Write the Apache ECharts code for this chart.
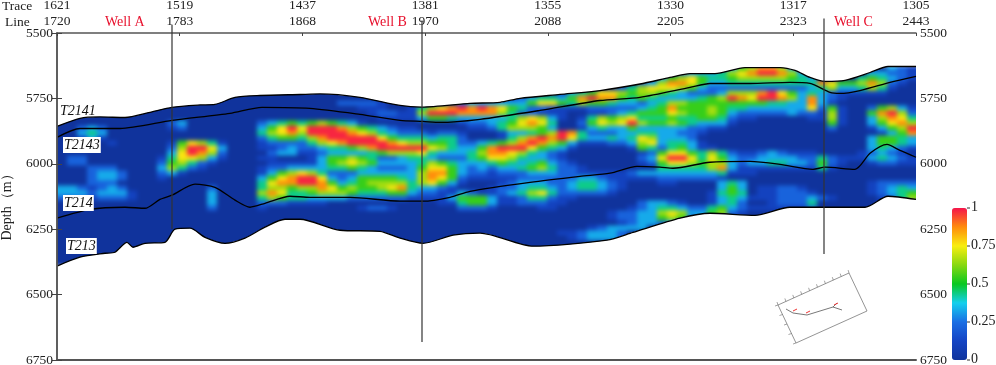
<!DOCTYPE html>
<html><head><meta charset="utf-8">
<style>
html,body{margin:0;padding:0;background:#fff}
#c{width:996px;height:365px}
canvas[data-zr-dom-id="zr_-1"]{filter:blur(2px);clip-path:inset(33px 80px 5px 57px)}
</style>
<script src="https://cdn.jsdelivr.net/npm/echarts@6/dist/echarts.min.js"></script>
</head><body><div id="c"></div>
<script>
const traceLabels=[1621,1519,1437,1381,1355,1330,1317,1305];
const lineLabels=[1720,1783,1868,1970,2088,2205,2323,2443];
const depthTicks=[5500,5750,6000,6250,6500,6750];
const colorbarTicks=[['1',1],['0.75',.75],['0.5',.5],['0.25',.25],['0',0]];

const topX=[0,23,43,68,93,115,143,158,178,203,243,263,303,343,365,413,443,463,503,543,583,613,633,658,688,723,738,753,768,788,813,831,859];
const topD=[5857,5826,5821,5823,5803,5784,5775,5773,5746,5739,5735,5733,5746,5777,5783,5769,5765,5750,5735,5720,5695,5670,5655,5655,5632,5632,5643,5670,5685,5681,5651,5628,5628];
const botX=[0,23,48,58,70,76,88,108,118,133,148,168,188,208,228,243,283,323,343,366,396,423,476,550,576,623,653,698,733,808,831,859];
const botD=[6391,6357,6342,6338,6300,6319,6304,6300,6250,6246,6281,6304,6284,6242,6212,6212,6254,6258,6284,6304,6273,6265,6315,6292,6262,6208,6189,6197,6166,6166,6124,6136];
const t2141X=[0,23,63,115,173,205,253,303,343,366,383,423,483,543,583,633,653,693,733,753,773,783,803,833,859];
const t2141D=[5899,5865,5865,5834,5807,5784,5788,5811,5834,5838,5842,5830,5796,5758,5746,5708,5693,5693,5689,5693,5727,5731,5720,5689,5666];
const t214X=[0,33,68,88,103,115,138,158,178,193,208,233,253,293,343,366,393,413,473,523,553,580,603,616,653,693,723,756,768,798,813,830,843,859];
const t214D=[6208,6174,6166,6170,6136,6120,6078,6090,6139,6166,6151,6124,6128,6128,6143,6143,6128,6105,6071,6048,6036,6010,6013,6017,5994,5991,6002,6021,6013,6021,5960,5926,5949,5975];
const wells=[['Well A',115,5468,6250],['Well B',365,5452,6681],['Well C',767,5445,6345]];

// amplitude grid: 0..9 digit per cell, 10 cells a group
const gridRows=[
"0000000000 0000000000 0000000000 0000000000 0000000000 0000000000 0000000356 8863000000 000321",
"0000000000 0000000000 0000000000 0000000000 0000000000 0000000000 0023334678 9986300000 033221",
"0000000000 0000000000 0000000000 0000000000 0000000000 0000000000 3567544566 6665430000 454321",
"0000000000 0000000000 0000000000 0000000000 0000000000 0000000023 6887533444 4444448755 686210",
"0000000000 0000000000 0000000000 0000000000 0000000000 0000002467 7765322222 2222234633 464100",
"0000000000 0000000000 0000000000 0000000000 0000000000 1345776566 5432223666 8975343211 111000",
"0000000000 0000000000 0000000000 0000000000 0000012344 3589885454 3333456987 9986383210 000000",
"0000000000 0000000000 0000000022 2210000000 2333333577 5465543323 4665555555 5443383100 000000",
"0000000000 0000000000 0000000000 1110014678 9898754221 1112222234 5855565443 3333372510 025631",
"0000000000 0000000000 0000000000 0122116999 8888642211 1001123455 5765565322 2223221610 058962",
"0000000000 0000000000 0000000000 0011113554 3333346763 1014656744 4544554211 0000011610 036874",
"0000000000 0230000000 2345456543 1000000000 1223457874 0025767965 5654333100 0000000510 035786",
"0023200000 0120000000 3579799986 5432110000 0112466653 0013433533 3332211000 0000000200 013569",
"0034300000 0000000000 4678699998 7643222122 1000133456 9842223344 3322100000 0000000000 001358",
"0013100000 0000000000 2455468999 9975444344 2000146898 9743343476 3332000000 0000000000 035543",
"0000010000 0157641000 1222246789 9998766554 2234568986 5311122367 3443100000 0000000000 035543",
"0000000000 0269973000 1123223445 6899999764 3358999754 3100000154 2453110000 0000000000 034321",
"0000000000 0379862000 0233112333 3456667433 3468876432 1000000012 5775464211 2321110000 123210",
"0220000000 1477631000 1100013556 5422344322 2457764332 1000000023 7997475322 3333224211 134321",
"0220000000 2564210000 0111113567 6533334654 3334543453 2100000012 5776566323 3443325210 012211",
"0002220000 3642100000 1223333445 4322235775 3232334564 2210000000 4444468311 1111114100 000000",
"0002332000 2310000000 1356764222 3333336885 3221222333 2211111233 3333334111 0000000000 000000",
"0002332000 1000000000 3578997323 5555436875 2111112222 2233211111 2222221000 0000000000 000000",
"0002220000 0000000000 4788998534 5666646753 1000123332 2344321000 1100003430 0000000000 012222",
"3321232000 0000020000 4665668756 5567843321 0001223443 2344321000 0000003530 1122100000 012343",
"3332333100 0000030000 6874456665 4445532211 3211234674 2222210000 0000014540 1122210000 012345",
"2221222100 0000030000 4654433332 2222211113 5553112442 1100000000 0000013431 1122232100 001246",
"0000000000 0000030000 2221111000 0000000011 4553112221 1000000023 3210013420 0122240000 000112",
"0000000000 0000020000 1000000000 1221000000 2221000011 0000000123 4432245321 1111120000 000000",
"0000000000 0000000000 0000000000 0000000000 0000000000 0000012233 6763356210 0000000000 000000",
"0000000000 0000000000 0000000000 0000000000 0000000000 0000012233 5652344000 0000000000 000000",
"0000000000 0000000000 0000000000 0000000000 0000000000 0000001233 2300000000 0000000000 000000",
"0000000000 0000000000 0000000000 0000000000 0000000000 0001233330 0000000000 0000000000 000000",
"0000000000 0000000000 0000000000 0000000000 0000000000 1123332000 0000000000 0000000000 000000",
"0000000000 0000000000 0000000000 0000000000 0000000000 0123332000 0000000000 0000000000 000000",
"","","","",""
];
const cellX=10, cellD=19.085, firstDepth=5634.5, amp=0.109;

const heat=[];
gridRows.forEach((s,r)=>{
  const cells=s.replace(/ /g,'').padEnd(86,'0');
  for(let c=-2;c<88;c++){
    const k=Math.min(85,Math.max(0,c));
    heat.push([5+c*cellX, firstDepth+r*cellD, (+cells[k])*amp]);
  }
});
const zip=(a,b)=>a.map((v,i)=>[v,b[i]]);
const serif='Liberation Serif';
const line={type:'line',symbol:'none',smooth:0.25,silent:true,animation:false,clip:false,z:4,
  lineStyle:{color:'#000',width:1.3}};

const chart=echarts.init(document.getElementById('c'),null,{renderer:'canvas'});
const scaleY={type:'value',inverse:true,min:5500,max:6750,interval:250,z:6,
  axisLine:{show:true,lineStyle:{color:'#555',width:1.5}},
  axisTick:{show:true,inside:true,length:5,lineStyle:{color:'#444'}},
  splitLine:{show:false},
  axisLabel:{color:'#222',fontFamily:serif,fontSize:13.5,margin:4,showMinLabel:true,showMaxLabel:true,formatter:v=>String(v)}};

const Z=20;
const inset=[];
const P=[[778,305],[849,273],[867,311],[796,343]];
inset.push({type:'polygon',z:Z,silent:true,shape:{points:P},style:{fill:'none',stroke:'#666',lineWidth:0.7}});
inset.push({type:'polyline',z:Z,silent:true,shape:{points:[[786,309],[793,313],[807,315],[833,307],[842,310]]},style:{fill:'none',stroke:'#555',lineWidth:0.8}});
inset.push({type:'line',z:Z,silent:true,shape:{x1:833,y1:307,x2:837,y2:303},style:{stroke:'#555',lineWidth:0.8}});
[[795,310],[808,312],[836,304]].forEach(p=>inset.push({type:'line',z:Z,silent:true,shape:{x1:p[0]-2,y1:p[1]+1,x2:p[0]+2,y2:p[1]-1},style:{stroke:'#e33',lineWidth:1}}));
for(let i=0;i<=9;i++){const x=778+i*7.9,y=305-i*3.55;inset.push({type:'line',z:Z,silent:true,shape:{x1:x,y1:y,x2:x-1,y2:y-3},style:{stroke:'#666',lineWidth:0.6}});}
for(let i=0;i<=4;i++){const x=778+i*4.5,y=305+i*9.5;inset.push({type:'line',z:Z,silent:true,shape:{x1:x,y1:y,x2:x-3,y2:y+1},style:{stroke:'#666',lineWidth:0.6}});}

const txt=(s,x,y,o)=>({type:'text',x,y,z:Z,silent:true,style:Object.assign({text:s,fontFamily:serif,fontSize:13.5,fill:'#222'},o||{})});
const horizonTag=(s,x,y,bg)=>txt(s,x,y,{fontStyle:'italic',fontSize:14,fill:'#111',backgroundColor:bg?'#fff':'transparent',padding:[1,1,1,1]});
const cbTop=208,cbH=152;
const graphics=[
  txt('Trace',2,-1),txt('Line',5,15),
  txt('Well A',105,15,{fill:'#e8112d',fontSize:14}),txt('Well B',368,15,{fill:'#e8112d',fontSize:14}),txt('Well C',834,15,{fill:'#e8112d',fontSize:14}),
  {type:'text',x:7,y:204,z:Z,rotation:Math.PI/2,silent:true,style:{text:'Depth（m）',fontFamily:serif,fontSize:14,fill:'#222',align:'center',verticalAlign:'middle'}},
  horizonTag('T2141',59,103,false),horizonTag('T2143',63,137,true),horizonTag('T214',63,195,true),horizonTag('T213',66,238,true),
  ...inset,
  ...colorbarTicks.map(t=>txt(t[0],971,cbTop+(1-t[1])*cbH-8,{fontSize:14})),
  ...colorbarTicks.map(t=>({type:'line',z:Z,silent:true,shape:{x1:967,y1:cbTop+(1-t[1])*cbH,x2:970,y2:cbTop+(1-t[1])*cbH},style:{stroke:'#333',lineWidth:1}}))
];

chart.setOption({
  animation:false,
  grid:{left:57,top:33,width:859,height:327,containLabel:false,outerBoundsMode:'none'},
  xAxis:[
   {type:'value',position:'top',min:0,max:859,interval:859/7,z:6,
    axisLine:{show:true,lineStyle:{color:'#555',width:1.5}},
    axisTick:{show:true,inside:true,length:3,lineStyle:{color:'#444'}},splitLine:{show:false},
    axisLabel:{color:'#222',fontFamily:serif,fontSize:13.5,lineHeight:16,margin:4,showMinLabel:true,showMaxLabel:true,hideOverlap:false,
      formatter:v=>{const i=Math.round(v/(859/7));return traceLabels[i]+'\n'+lineLabels[i];}}},
   {type:'value',position:'bottom',min:0,max:859,z:6,
    axisLine:{show:true,lineStyle:{color:'#555',width:2}},axisTick:{show:false},axisLabel:{show:false},splitLine:{show:false}}
  ],
  yAxis:[Object.assign({position:'left'},scaleY),Object.assign({position:'right'},scaleY)],
  visualMap:{type:'continuous',seriesIndex:0,dimension:2,min:0,max:1,left:952,top:cbTop,itemWidth:15,itemHeight:cbH,
    calculable:false,hoverLink:false,text:null,showLabel:false,textStyle:{fontSize:0},padding:0,
    inRange:{color:['#10339c','#1444c4','#1a6ee4','#14d0ee','#08c820','#88d810','#f8ee10','#ff8c0c','#f5144a']}},
  graphic:{elements:graphics},
  series:[
   {type:'custom',zlevel:-1,progressive:0,silent:true,animation:false,encode:{x:0,y:1},data:heat,
    renderItem:(p,api)=>{
      const a=api.coord([api.value(0)-cellX/2,api.value(1)-cellD/2]);
      const b=api.coord([api.value(0)+cellX/2,api.value(1)+cellD/2]);
      return {type:'rect',shape:{x:a[0],y:a[1],width:b[0]-a[0]+0.6,height:b[1]-a[1]+0.6},style:{fill:api.visual('color')}};
    }},
   Object.assign({},line,{name:'top',data:zip(topX,topD),areaStyle:{color:'#fff',opacity:1,origin:'start'}}),
   Object.assign({},line,{name:'bottom',data:zip(botX,botD),areaStyle:{color:'#fff',opacity:1,origin:'end'}}),
   Object.assign({},line,{name:'T2141',z:5,data:zip(t2141X,t2141D)}),
   Object.assign({},line,{name:'T214',z:5,data:zip(t214X,t214D)}),
   ...wells.map(w=>Object.assign({},line,{name:w[0],z:7,smooth:false,lineStyle:{color:'#333',width:1.2},data:[[w[1],w[2]],[w[1],w[3]]]}))
  ]
});
</script></body></html>
